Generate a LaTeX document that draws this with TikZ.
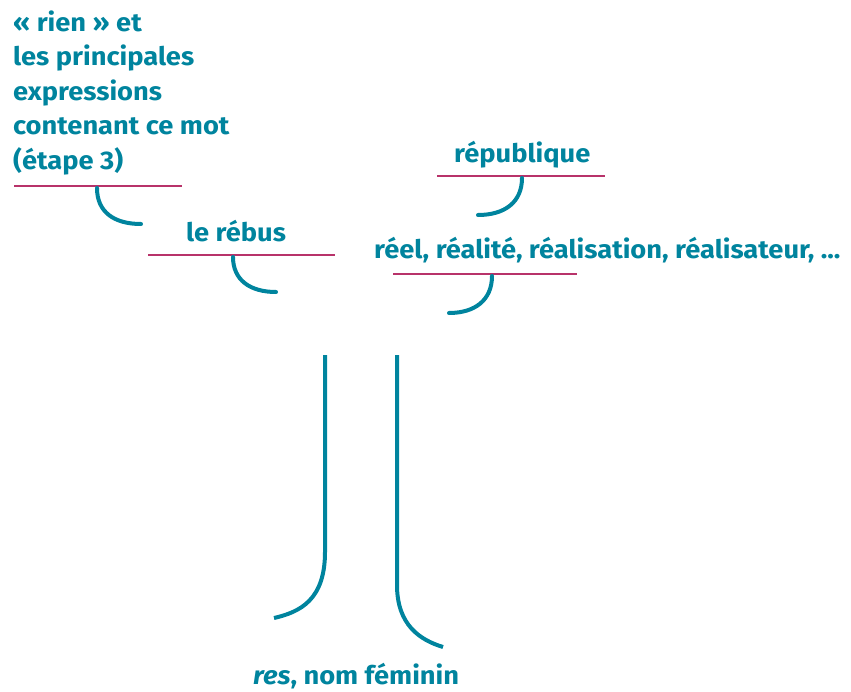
\documentclass[tikz,border=0pt]{standalone}
\usepackage{fontspec}
\setmainfont{Fira Sans}[BoldFont={Fira Sans Bold},BoldFeatures={FakeStretch=1.07},ItalicFont={Fira Sans Italic},BoldItalicFont={Fira Sans Bold Italic},BoldItalicFeatures={FakeStretch=1.07}]
\definecolor{teal}{HTML}{00849E}
\definecolor{mag}{HTML}{B8336A}
\begin{document}
\begin{tikzpicture}[x=1pt,y=-1pt,
  lab/.style={text=teal,font=\fontsize{25.5}{34.5}\selectfont\bfseries,inner sep=0pt,anchor=base west,align=left},
  rule/.style={draw=mag,line width=2.4pt},
  hook/.style={draw=teal,line width=4pt,line cap=round}]
\useasboundingbox (0,0) rectangle (851,691);
% texts
\node[lab] (t1) at (13,169) {« rien » et\\les principales\\expressions\\contenant ce mot\\(étape 3)};
\node[lab] (t2) at (186,241) {le rébus};
\node[lab] (t3) at (454,162) {république};
\node[lab] (t4) at (374,258) {réel, réalité, réalisation, réalisateur, ...};
\node[lab] (t5) at (253,684) {\textit{res}, nom féminin};
% rules
\coordinate (r1a) at (14,186); \coordinate (r1b) at (182,186);
\coordinate (r2a) at (148,255); \coordinate (r2b) at (335,255);
\coordinate (r3a) at (437,176); \coordinate (r3b) at (605,176);
\coordinate (r4a) at (393,274); \coordinate (r4b) at (577,274);
\draw[rule] (r1a) -- (r1b);
\draw[rule] (r2a) -- (r2b);
\draw[rule] (r3a) -- (r3b);
\draw[rule] (r4a) -- (r4b);
% hooks
\coordinate (h1s) at (97,188); \coordinate (h1e) at (141,224);
\coordinate (h2s) at (233,257); \coordinate (h2e) at (276,292);
\coordinate (h3s) at (522,178); \coordinate (h3e) at (478,215);
\coordinate (h4s) at (492,276); \coordinate (h4e) at (449,313);
\draw[hook] (h1s) .. controls (97,212) and (114,224) .. (h1e);
\draw[hook] (h2s) .. controls (233,280) and (250,292) .. (h2e);
\draw[hook] (h3s) .. controls (522,202) and (505,215) .. (h3e);
\draw[hook] (h4s) .. controls (492,300) and (475,313) .. (h4e);
% trunk
\coordinate (l1) at (325,355); \coordinate (l2) at (325,552); \coordinate (l3) at (274,618);
\coordinate (m1) at (397,355); \coordinate (m2) at (397,585); \coordinate (m3) at (443,647);
\draw[hook,line cap=butt] (l1) -- (l2) .. controls (325,600) and (300,612) .. (l3);
\draw[hook,line cap=butt] (m1) -- (m2) .. controls (397,625) and (420,640) .. (m3);
\end{tikzpicture}
\end{document}
